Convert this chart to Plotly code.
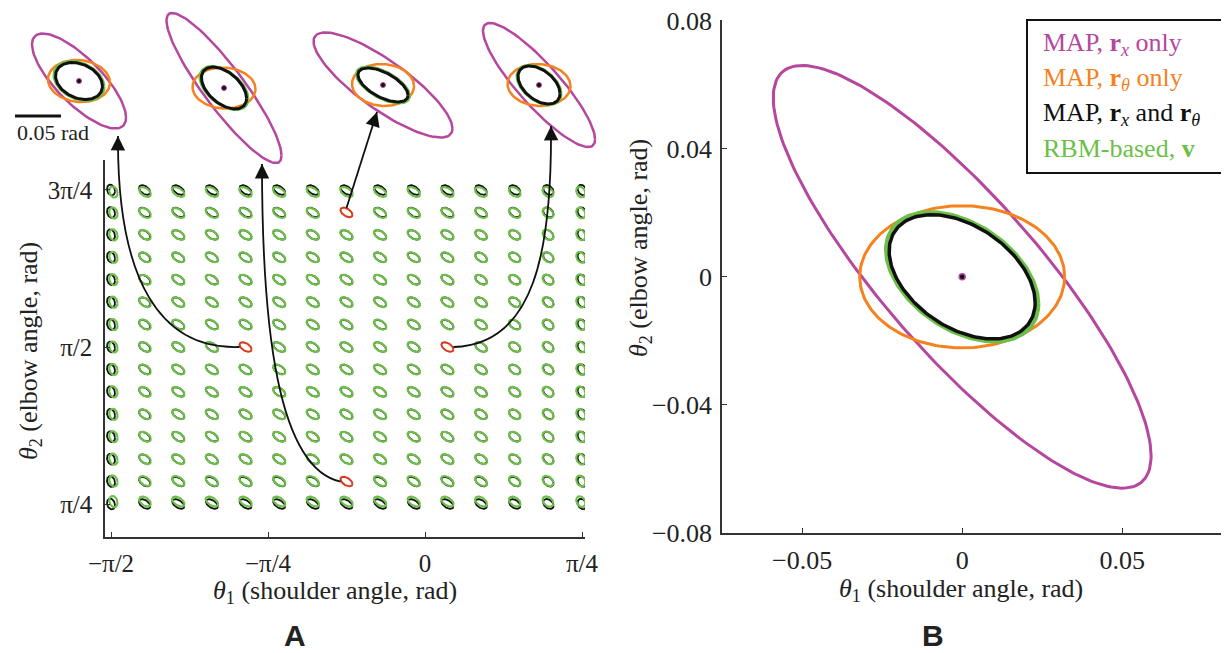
import numpy as np
import plotly.graph_objects as go

# ---------------- data ----------------
# Panel A grid (joint angles, rad)
TH1 = [-1.5708, -1.4025, -1.2342, -1.0659, -0.8976, -0.7293, -0.5610, -0.3927,
       -0.2244, -0.0561, 0.1122, 0.2805, 0.4488, 0.6171, 0.7854]
TH2 = [0.7854, 0.8976, 1.0098, 1.1220, 1.2342, 1.3464, 1.4586, 1.5708,
       1.6830, 1.7952, 1.9074, 2.0196, 2.1318, 2.2440, 2.3562]

# drawn ellipse shape per column (MAP r_x and r_theta)
COL_SX = [0.020, 0.028, 0.030, 0.030, 0.030, 0.030, 0.030, 0.030, 0.030, 0.030,
          0.030, 0.029, 0.028, 0.026, 0.022]
COL_SY = [0.027, 0.024, 0.024, 0.024, 0.024, 0.024, 0.024, 0.024, 0.024, 0.024,
          0.024, 0.024, 0.024, 0.025, 0.026]
COL_RHO = [-0.20, -0.45, -0.50, -0.50, -0.50, -0.50, -0.50, -0.50, -0.50, -0.50,
           -0.50, -0.45, -0.40, -0.35, -0.25]
# RBM-based ellipse offsets (edge bias)
GREEN_DX_COL = [0.012, 0.002, 0, 0, 0, 0, 0, 0, 0, 0, 0, 0, 0, -0.002, -0.006]
GREEN_DY_ROW = [0.012, 0.003, 0, 0, 0, 0, 0, 0, 0, 0, 0, 0, 0, -0.003, -0.010]
GREEN_SCALE = 1.04

# highlighted cells (col, row)
RED_CELLS = [(4, 7), (7, 1), (7, 13), (10, 7)]

# Insets: (sx, sy, rho) in rad for each method
INSET_MAGENTA = [(0.0511, 0.0516, -0.77), (0.0625, 0.0815, -0.90),
                 (0.0755, 0.0571, -0.83), (0.0609, 0.0674, -0.875)]
INSET_ORANGE = [(0.0337, 0.0228, -0.08), (0.0342, 0.0223, -0.05),
                (0.0337, 0.0228, -0.05), (0.0342, 0.0228, -0.05)]
INSET_BLACK = [(0.0255, 0.0201, -0.28), (0.0245, 0.0228, -0.49),
               (0.0272, 0.0185, -0.60), (0.0228, 0.0207, -0.45)]
INSET_GREEN = [(0.0272, 0.0212, -0.30), (0.0261, 0.0234, -0.50),
               (0.0288, 0.0196, -0.60), (0.0239, 0.0212, -0.45)]
SCALE_BAR = 0.05

# Panel B: (sx, sy, rho)
B_MAGENTA = (0.059, 0.066, -0.847)
B_ORANGE = (0.032, 0.0222, 0.0)
B_GREEN = (0.0238, 0.0202, -0.42)
B_BLACK = (0.0228, 0.0194, -0.417)

LEGEND_LABELS = ["MAP, <b>r</b><sub><i>x</i></sub> only",
                 "MAP, <b>r</b><sub><i>θ</i></sub> only",
                 "MAP, <b>r</b><sub><i>x</i></sub> and <b>r</b><sub><i>θ</i></sub>",
                 "RBM-based, <b>v</b>"]

# ---------------- style ----------------
W, H = 1229, 653
OFF = 8  # page margin of the browser body
MAG = "#b5479e"
ORA = "#f5821f"
GRN = "#6cbf48"
BLK = "#111111"
RED = "#d9391c"
SERIF = "Liberation Serif"
AXC = "#333333"

# Panel A geometry (screen px)
A_L, A_R, A_T, A_B = 105, 585, 160, 537
A_PPR = 199.9
A_X0 = -1.6008
A_Y0 = 0.6203
# Panel B geometry
B_L, B_T, B_B = 722, 20, 533
# Inset overlay geometry (screen px)
I_W, I_H, I_PPR = 600, 170, 920.0
INSET_CENTERS_PX = [(79, 81), (224, 88), (383, 85), (539, 85)]
BAR_PX = (15, 116)


def ell(cx, cy, sx, sy, rho, n=72):
    t = np.linspace(0, 2 * np.pi, n)
    u, v = np.cos(t), np.sin(t)
    x = cx + sx * u
    y = cy + rho * sy * u + sy * np.sqrt(1 - rho ** 2) * v
    return list(x), list(y)


def paper(px, py):
    return (px - OFF) / W, 1 - (py - OFF) / H


def a_to_px(x, y):
    return A_L + (x - A_X0) * A_PPR, A_B - (y - A_Y0) * A_PPR


fig = go.Figure()

# ---- Panel A grid ----
kx, ky, gx, gy = [], [], [], []
for i, x in enumerate(TH1):
    for j, y in enumerate(TH2):
        if (i, j) in RED_CELLS:
            continue
        ex, ey = ell(x, y, COL_SX[i], COL_SY[i], COL_RHO[i])
        kx += ex + [None]
        ky += ey + [None]
        ex, ey = ell(x + GREEN_DX_COL[i], y + GREEN_DY_ROW[j],
                     COL_SX[i] * GREEN_SCALE, COL_SY[i] * GREEN_SCALE, COL_RHO[i])
        gx += ex + [None]
        gy += ey + [None]
fig.add_trace(go.Scatter(x=kx, y=ky, mode="lines", line=dict(color=BLK, width=1.8),
                         xaxis="x", yaxis="y", showlegend=False, hoverinfo="skip"))
fig.add_trace(go.Scatter(x=gx, y=gy, mode="lines", line=dict(color=GRN, width=2.1),
                         xaxis="x", yaxis="y", showlegend=False, hoverinfo="skip"))
rx, ry = [], []
for (i, j) in RED_CELLS:
    ex, ey = ell(TH1[i], TH2[j], COL_SX[i], COL_SY[i], COL_RHO[i])
    rx += ex + [None]
    ry += ey + [None]
fig.add_trace(go.Scatter(x=rx, y=ry, mode="lines", line=dict(color=RED, width=2),
                         xaxis="x", yaxis="y", showlegend=False, hoverinfo="skip"))

# ---- Insets ----
for k, (cpx, cpy) in enumerate(INSET_CENTERS_PX):
    cx, cy = cpx / I_PPR, (I_H - cpy) / I_PPR
    for params, col, wd in [(INSET_MAGENTA[k], MAG, 2.5), (INSET_ORANGE[k], ORA, 2.5),
                            (INSET_GREEN[k], GRN, 3), (INSET_BLACK[k], BLK, 3)]:
        ex, ey = ell(cx, cy, *params, n=120)
        fig.add_trace(go.Scatter(x=ex, y=ey, mode="lines", line=dict(color=col, width=wd),
                                 xaxis="x3", yaxis="y3", showlegend=False, hoverinfo="skip"))
    fig.add_trace(go.Scatter(x=[cx], y=[cy], mode="markers",
                             marker=dict(size=5, color=BLK, line=dict(color=MAG, width=1)),
                             xaxis="x3", yaxis="y3", showlegend=False, hoverinfo="skip"))
bx0, by0 = BAR_PX[0] / I_PPR, (I_H - BAR_PX[1]) / I_PPR
fig.add_trace(go.Scatter(x=[bx0, bx0 + SCALE_BAR], y=[by0, by0], mode="lines",
                         line=dict(color=BLK, width=3), xaxis="x3", yaxis="y3",
                         showlegend=False, hoverinfo="skip"))

# ---- Panel B ----
for params, col, wd in [(B_MAGENTA, MAG, 3), (B_ORANGE, ORA, 3), (B_GREEN, GRN, 4), (B_BLACK, BLK, 3.5)]:
    ex, ey = ell(0, 0, *params, n=200)
    fig.add_trace(go.Scatter(x=ex, y=ey, mode="lines", line=dict(color=col, width=wd),
                             xaxis="x2", yaxis="y2", showlegend=False, hoverinfo="skip"))
fig.add_trace(go.Scatter(x=[0], y=[0], mode="markers",
                         marker=dict(size=6, color=BLK, line=dict(color=MAG, width=1.5)),
                         xaxis="x2", yaxis="y2", showlegend=False, hoverinfo="skip"))

# ---- arrows (curves as shapes, heads as annotations) ----
shapes = []
annotations = []


def pp(px, py):
    x, y = paper(px, py)
    return f"{x:.5f},{y:.5f}"


arrow_specs = [
    # start data (x,y), ctrl1 px, ctrl2 px, tip px
    ((TH1[4] - 0.03, TH2[7]), (160, 350), (117, 280), (118, 136)),
    ((TH1[7] - 0.03, TH2[1]), (278, 468), (262, 330), (262, 164)),
    ((TH1[7], TH2[13] + 0.022), None, None, (377, 112)),
    ((TH1[10] + 0.03, TH2[7]), (535, 345), (552, 250), (551, 126)),
]
for (sx_, sy_), c1, c2, tip in arrow_specs:
    spx, spy = a_to_px(sx_, sy_)
    if c1 is None:
        path = f"M {pp(spx, spy)} L {pp(*tip)}"
        dx, dy = spx - tip[0], spy - tip[1]
    else:
        path = f"M {pp(spx, spy)} C {pp(*c1)} {pp(*c2)} {pp(*tip)}"
        dx, dy = c2[0] - tip[0], c2[1] - tip[1]
    shapes.append(dict(type="path", path=path, xref="paper", yref="paper",
                       line=dict(color=BLK, width=1.8), layer="above"))
    nrm = (dx ** 2 + dy ** 2) ** 0.5
    tx, ty = paper(*tip)
    annotations.append(dict(x=tx, y=ty, xref="paper", yref="paper", text="",
                            showarrow=True, ax=dx / nrm * 14, ay=dy / nrm * 14,
                            arrowhead=2, arrowsize=1.6, arrowwidth=1.8, arrowcolor=BLK))

# scale bar text
tx, ty = paper(53, 133)
annotations.append(dict(x=tx, y=ty, xref="paper", yref="paper", text="0.05 rad",
                        xanchor="center", yanchor="middle",
                        showarrow=False, font=dict(family=SERIF, size=22, color="#222")))

# axis titles
TFONT = dict(family=SERIF, size=26, color="#222")
for (px, py, txt, ang) in [
    (335, 592, "<i>θ</i><sub>1</sub> (shoulder angle, rad)", 0),
    (30, 351, "<i>θ</i><sub>2</sub> (elbow angle, rad)", -90),
    (961, 590, "<i>θ</i><sub>1</sub> (shoulder angle, rad)", 0),
    (640, 248, "<i>θ</i><sub>2</sub> (elbow angle, rad)", -90),
]:
    x, y = paper(px, py)
    annotations.append(dict(x=x, y=y, xref="paper", yref="paper", text=txt, textangle=ang,
                            xanchor="center", yanchor="middle",
                            showarrow=False, font=TFONT))

# panel letters
for px, txt in [(295, "A"), (933, "B")]:
    x, y = paper(px, 635)
    annotations.append(dict(x=x, y=y, xref="paper", yref="paper", text=f"<b>{txt}</b>",
                            xanchor="center", yanchor="middle", showarrow=False,
                            font=dict(family="Liberation Sans", size=30, color="#222")))

# legend (panel B)
x0, y0 = paper(1027, 173)
x1, y1 = paper(1250, 20)
shapes.append(dict(type="rect", xref="paper", yref="paper", x0=x0, x1=x1, y0=y0, y1=y1,
                   line=dict(color=BLK, width=2), fillcolor="white", layer="below"))
for k, (lab, col) in enumerate(zip(LEGEND_LABELS, [MAG, ORA, BLK, GRN])):
    x, y = paper(1041, 44 + k * 35)
    annotations.append(dict(x=x, y=y, xref="paper", yref="paper", text=lab,
                            xanchor="left", yanchor="middle", showarrow=False,
                            font=dict(family=SERIF, size=26, color=col)))

# ---------------- axes ----------------
TKA = dict(family=SERIF, size=25, color="#222")
TKB = dict(family=SERIF, size=26, color="#222")
axA = dict(showgrid=False, zeroline=False, showline=True, linecolor=AXC, linewidth=1.5,
           ticks="inside", ticklen=5, tickcolor=AXC, automargin=False,
           ticklabeloverflow="allow")
xa0, ya0 = paper(A_L, A_B)
xa1, ya1 = paper(A_R, A_T)
xA_range = [A_X0, A_X0 + (A_R - A_L) / A_PPR]
yA_range = [A_Y0, A_Y0 + (A_B - A_T) / A_PPR]

B_YR = [-0.08, 0.0802]
B_PPR = (B_B - B_T) / (B_YR[1] - B_YR[0])
B_X0 = -0.075
xb0, yb0 = paper(B_L, B_B)
_, yb1 = paper(B_L, B_T)
xB_range = [B_X0, B_X0 + (W + OFF - B_L) / B_PPR]

xi0, yi0 = paper(0, I_H)
xi1, yi1 = paper(I_W, 0)

fig.update_layout(
    width=W, height=H, margin=dict(l=0, r=0, t=0, b=0, pad=0, autoexpand=False),
    paper_bgcolor="white", plot_bgcolor="rgba(0,0,0,0)",
    xaxis=dict(axA, domain=[xa0, xa1], range=xA_range, anchor="y", tickfont=TKA,
               tickvals=[TH1[0], TH1[7] * 2, 0, TH1[-1]],
               ticktext=["−π/2", "−π/4", "0", "π/4"], ticklabelstandoff=3),
    yaxis=dict(axA, domain=[ya0, ya1], range=yA_range, anchor="x", tickfont=TKA,
               tickvals=[TH2[0], TH2[7], TH2[-1]],
               ticktext=["π/4", "π/2", "3π/4"], ticklabelstandoff=6),
    xaxis2=dict(axA, domain=[xb0, 1.0], range=xB_range, anchor="y2", tickfont=TKB,
                tickvals=[-0.05, 0, 0.05], ticktext=["−0.05", "0", "0.05"],
                ticklabelstandoff=3),
    yaxis2=dict(axA, domain=[yb0, yb1], range=B_YR, anchor="x2", tickfont=TKB,
                tickvals=[-0.08, -0.04, 0, 0.04, 0.08],
                ticktext=["−0.08", "−0.04", "0", "0.04", "0.08"], ticklabelstandoff=3),
    xaxis3=dict(domain=[max(xi0, 0), xi1], range=[OFF / I_PPR, I_W / I_PPR], anchor="y3",
                visible=False, automargin=False),
    yaxis3=dict(domain=[yi0, 1], range=[0, (I_H - OFF) / I_PPR], anchor="x3",
                visible=False, automargin=False),
    shapes=shapes, annotations=annotations,
)

fig.write_html("out.html")
